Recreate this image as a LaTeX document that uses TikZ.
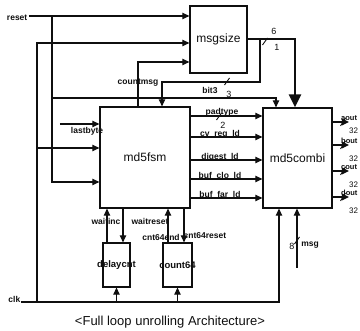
\documentclass[tikz,border=0pt]{standalone}
\usepackage{fontspec}
\setmainfont{Liberation Sans}
\usetikzlibrary{arrows.meta}
\definecolor{ScanInk}{RGB}{15,15,15}

\begin{document}
\begin{tikzpicture}[x=1pt,y=-1pt,every node/.style={align=center,text=ScanInk},
    block/.style={draw=ScanInk,line width=1.3pt,fill=white,inner sep=0pt,font=\fontsize{12}{14}\selectfont},
    smallblock/.style={block,font=\fontsize{9.5}{11}\selectfont\bfseries},
    wire/.style={draw=ScanInk,line width=1.2pt},
    arr/.style={wire,-{Triangle[length=7pt,width=6.5pt]}},
    bigarr/.style={draw=ScanInk,line width=2.6pt,-{Triangle[length=13pt,width=12pt]}},
    sig/.style={font=\fontsize{8.5}{9}\selectfont\bfseries,inner sep=0.5pt},
    outsig/.style={font=\fontsize{7.5}{8}\selectfont\bfseries,inner sep=0pt,anchor=base west},
    num/.style={font=\fontsize{9}{10}\selectfont,inner sep=0pt},
    busmark/.style={draw=ScanInk,line width=0.9pt}]
    \useasboundingbox (0,0) rectangle (360,331);
    % blocks
    \node[block,minimum width=57pt,minimum height=67pt] (msgsize) at (218.5,39.5) {msgsize};
    \node[block,minimum width=90pt,minimum height=101pt] (md5fsm) at (145,157.5) {md5fsm};
    \node[block,minimum width=69pt,minimum height=100pt] (md5combi) at (297.5,158) {md5combi};
    \node[smallblock,minimum width=27pt,minimum height=44pt] (delaycnt) at (116.5,265) {\makebox[0pt]{delaycnt}};
    \node[smallblock,minimum width=29pt,minimum height=44pt] (count64) at (177.5,265) {\makebox[0pt]{count64}};
    % free ends and junctions
    \coordinate (rstIn) at (29,16);
    \coordinate (rstJ) at (52,16);
    \coordinate (clkIn) at (21,302);
    \coordinate (clkJ) at (37,302);
    \coordinate (lbIn) at (60,124);
    \coordinate (szJ) at (260,39);
    \coordinate (msgIn) at (297,268);
    \coordinate (aoutEnd) at (349,122);
    \coordinate (boutEnd) at (349,145);
    \coordinate (coutEnd) at (349,171);
    \coordinate (doutEnd) at (349,197);
    % reset
    \draw[arr] (rstIn) -- (rstIn -| msgsize.west);
    \draw[arr] (rstJ) |- (md5fsm.west |- 0,182);
    \draw[arr] (rstJ |- 0,98) -| (md5combi.north -| 276,0);
    % clk
    \draw[arr] (clkIn) -| (md5combi.south -| 279,0);
    \draw[arr] (clkJ) |- (msgsize.west |- 0,43);
    \draw[arr] (clkJ |- 0,148) -- (md5fsm.west |- 0,148);
    \draw[arr] (delaycnt.south |- clkIn) -- (delaycnt.south);
    \draw[arr] (count64.south |- clkIn) -- (count64.south);
    % lastbyte, countmsg
    \draw[arr] (lbIn) -- (lbIn -| md5fsm.west);
    \draw[arr] (md5fsm.north -| 138,0) |- (msgsize.west |- 0,62);
    % msgsize out
    \draw[bigarr] (msgsize.east |- szJ) -| (md5combi.north -| 295,0);
    \draw[arr] (szJ) -- (szJ |- 0,82) -| (md5fsm.north -| 162,0);
    % md5fsm to md5combi
    \draw[arr] (md5fsm.east |- 0,116) -- (md5combi.west |- 0,116);
    \draw[arr] (md5fsm.east |- 0,137) -- (md5combi.west |- 0,137);
    \draw[arr] (md5fsm.east |- 0,160) -- (md5combi.west |- 0,160);
    \draw[arr] (md5fsm.east |- 0,179) -- (md5combi.west |- 0,179);
    \draw[arr] (md5fsm.east |- 0,198) -- (md5combi.west |- 0,198);
    % md5combi out
    \draw[arr] (md5combi.east |- aoutEnd) -- (aoutEnd);
    \draw[arr] (md5combi.east |- boutEnd) -- (boutEnd);
    \draw[arr] (md5combi.east |- coutEnd) -- (coutEnd);
    \draw[arr] (md5combi.east |- doutEnd) -- (doutEnd);
    % counters
    \draw[arr] (delaycnt.north -| 107,0) -- (md5fsm.south -| 107,0);
    \draw[arr] (md5fsm.south -| 123,0) -- (delaycnt.north -| 123,0);
    \draw[arr] (count64.north -| 168,0) -- (md5fsm.south -| 168,0);
    \draw[arr] (md5fsm.south -| 184,0) -- (count64.north -| 184,0);
    % msg
    \draw[arr] (msgIn) -- (md5combi.south -| msgIn);
    % bus marks
    \draw[busmark] (262.5,45) -- (267.5,38);
    \draw[busmark] (224.5,85) -- (229.5,78);
    \draw[busmark] (216.5,120) -- (221.5,113);
    \draw[busmark] (294.5,244) -- (299.5,237);
    \draw[busmark] (340.5,126) -- (345.5,118);
    \draw[busmark] (340.5,149) -- (345.5,141);
    \draw[busmark] (340.5,175) -- (345.5,167);
    \draw[busmark] (340.5,201) -- (345.5,193);
    % labels
    \node[sig,anchor=east] (lblReset) at (28,18) {reset};
    \node[sig,anchor=east] (lblClk) at (21,299) {clk};
    \node[sig] (lblCountmsg) at (138,83) {countmsg};
    \node[sig] (lblBit) at (210,90) {bit3};
    \node[num] (lblBitW) at (229,94) {3};
    \node[num] (lblSzW) at (274,31) {6};
    \node[num] (lblSzW1) at (277,47) {1};
    \node[sig] (lblLastbyte) at (87,131) {lastbyte};
    \node[sig] (lblPad) at (222,112) {padtype};
    \node[num] (lblPadW) at (223,125) {2};
    \node[sig] (lblCv) at (220,134) {cv\_reg\_ld};
    \node[sig] (lblDigest) at (220,157) {digest\_ld};
    \node[sig] (lblClo) at (220,176) {buf\_clo\_ld};
    \node[sig] (lblFar) at (220,195) {buf\_far\_ld};
    \node[outsig] (lblA) at (341,120.5) {aout};
    \node[outsig] (lblB) at (341,143.5) {bout};
    \node[outsig] (lblC) at (341,169.5) {cout};
    \node[outsig] (lblD) at (341,195.5) {dout};
    \node[num,anchor=base west,font=\fontsize{8}{9}\selectfont] (lblAW) at (349,133.5) {32};
    \node[num,anchor=base west,font=\fontsize{8}{9}\selectfont] (lblBW) at (349,161.5) {32};
    \node[num,anchor=base west,font=\fontsize{8}{9}\selectfont] (lblCW) at (349,187.5) {32};
    \node[num,anchor=base west,font=\fontsize{8}{9}\selectfont] (lblDW) at (349,214) {32};
    \node[sig] (lblWinc) at (106,221) {waitinc};
    \node[sig] (lblWrst) at (150,221) {waitreset};
    \node[sig] (lblCend) at (161,237) {cnt64end};
    \node[sig] (lblCrst) at (205,236) {cnt64reset};
    \node[num] (lblMsgW) at (292,246) {8};
    \node[sig] (lblMsg) at (310,245) {msg};
    % caption
    \node[font=\fontsize{13}{15}\selectfont] (caption) at (170,322) {<Full loop unrolling Architecture>};
\end{tikzpicture}
\end{document}
